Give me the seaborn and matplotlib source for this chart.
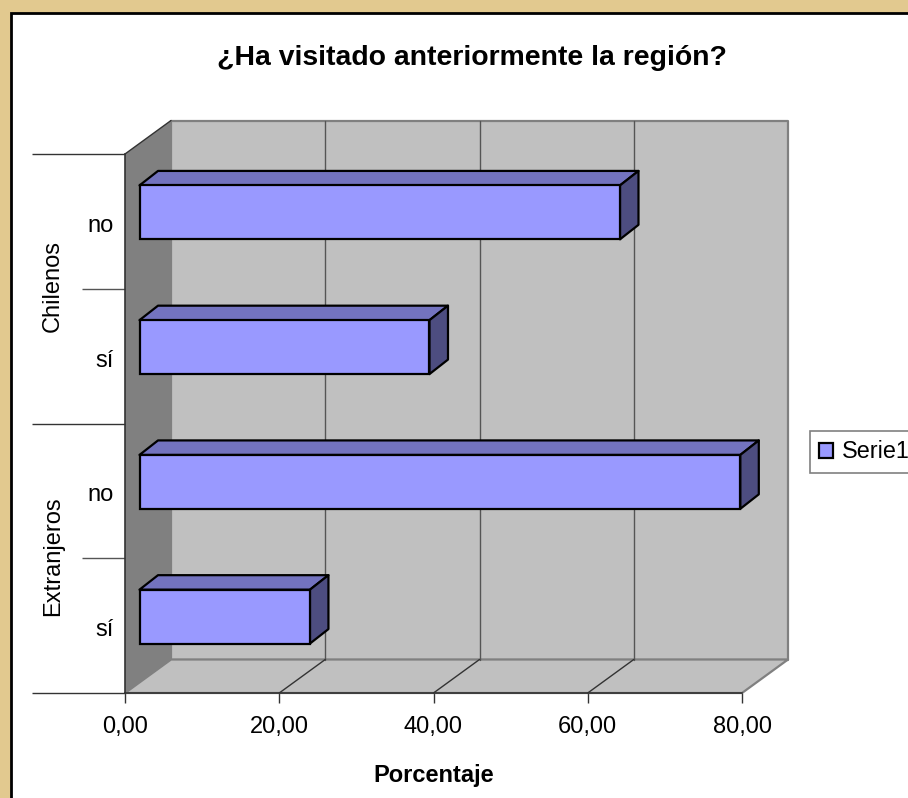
import pandas as pd
import seaborn as sns
import matplotlib.pyplot as plt
from matplotlib.patches import Polygon, Rectangle
from matplotlib.ticker import FuncFormatter
from matplotlib.transforms import Affine2D

# -----------------------------
# Data
# -----------------------------
grupos = ['Chilenos', 'Chilenos', 'Extranjeros', 'Extranjeros']
respuestas = ['no', 'sí', 'no', 'sí']
porcentajes = [62.3, 37.6, 77.9, 22.1]
x_ticks = [0, 20, 40, 60, 80]

df = pd.DataFrame({'grupo': grupos, 'respuesta': respuestas, 'porcentaje': porcentajes})
df['clave'] = df['grupo'] + ' ' + df['respuesta']

W, H = 908, 798
BAR = '#9999FF'
BAR_TOP = '#7373BF'
BAR_SIDE = '#4D4D80'
WALL = '#C0C0C0'
WALL_DARK = '#808080'

sns.set_theme(style='white')
plt.rcParams['font.family'] = ['Liberation Sans', 'DejaVu Sans']

fig = plt.figure(figsize=(W / 100, H / 100), dpi=100, facecolor='#E2C98F')
fig.patches.append(Rectangle((10.5 / W, -0.01), 1, 1 - 12.5 / H + 0.01, transform=fig.transFigure,
                             facecolor='white', edgecolor='black', linewidth=2, zorder=-1))

ax = fig.add_axes([125 / W, (H - 693) / H, 617 / W, 539 / H])
ax.patch.set_alpha(0)

sns.barplot(data=df, x='porcentaje', y='clave', orient='h', color=BAR, saturation=1, width=0.4,
            edgecolor='black', linewidth=1.6, label='Serie1', ax=ax, zorder=5)
ax.set_xlim(0, 80)
ax.set_ylim(3.5, -0.5)

# px to data units, the fake 3D is all worked out from these
ux = 80 / 617
uy = 4 / 539
dx, dy = 46 * ux, 33.5 * uy  # wall depth
sx, sy = 14.5 * ux, 9 * uy  # bar offset inside the depth
bx, by = 18.5 * ux, 14.5 * uy  # bar depth


def poly(pts, fc, ec='none', lw=0, z=1):
    ax.add_patch(Polygon(pts, closed=True, facecolor=fc, edgecolor=ec, linewidth=lw,
                         clip_on=False, zorder=z, joinstyle='round'))


# -----------------------------
# Walls and floor
# -----------------------------
poly([(dx, -0.5 - dy), (80 + dx, -0.5 - dy), (80 + dx, 3.5 - dy), (dx, 3.5 - dy)], WALL, WALL_DARK, 1.6, 1)
poly([(0, 3.5), (dx, 3.5 - dy), (80 + dx, 3.5 - dy), (80, 3.5)], WALL, WALL_DARK, 1.6, 1)
poly([(0, -0.5), (dx, -0.5 - dy), (dx, 3.5 - dy), (0, 3.5)], WALL_DARK, 'none', 0, 2)
ax.plot([0, dx], [-0.5, -0.5 - dy], color='#333333', lw=1, clip_on=False, zorder=3)

for t in x_ticks[1:-1]:
    ax.plot([t + dx, t + dx], [-0.5 - dy, 3.5 - dy], color='#555555', lw=1, clip_on=False, zorder=2)
    ax.plot([t, t + dx], [3.5, 3.5 - dy], color='#333333', lw=1, clip_on=False, zorder=2)

# -----------------------------
# Bars: move them into the depth and add top and side
# -----------------------------
for bar in ax.containers[0]:
    bar.set_x(bar.get_x() + sx)
    bar.set_y(bar.get_y() - sy)
    bar.set_clip_on(False)
    x0, x1 = bar.get_x(), bar.get_x() + bar.get_width()
    y0, y1 = bar.get_y(), bar.get_y() + bar.get_height()
    poly([(x0, y0), (x0 + bx, y0 - by), (x1 + bx, y0 - by), (x1, y0)], BAR_TOP, 'black', 1.6, 4)
    poly([(x1, y0), (x1 + bx, y0 - by), (x1 + bx, y1 - by), (x1, y1)], BAR_SIDE, 'black', 1.6, 4)

# -----------------------------
# Axes text and ticks
# -----------------------------
for s in ['top', 'right']:
    ax.spines[s].set_visible(False)
for s in ['left', 'bottom']:
    ax.spines[s].set_color('#333333')
    ax.spines[s].set_linewidth(1.2)
    ax.spines[s].set_zorder(3)

ax.set_xticks(x_ticks)
ax.xaxis.set_major_formatter(FuncFormatter(lambda v, p: f'{v:.2f}'.replace('.', ',')))
ax.tick_params(axis='x', bottom=True, length=7, width=1, color='#333333', labelsize=17, pad=9.5, labelcolor='black')
ax.set_yticks(range(4), respuestas)
ax.tick_params(axis='y', left=False, labelsize=17, pad=2.5, labelcolor='black')
# labels sit slightly under the band centre
for lab in ax.get_yticklabels():
    lab.set_transform(lab.get_transform() + Affine2D().translate(0, -2))
ax.set_xlabel('Porcentaje', fontsize=17, fontweight='bold', labelpad=19, color='black')
ax.set_ylabel('')

ax.hlines([-0.5, 1.5, 3.5], -93 * ux, 0, color='#333333', lw=1, clip_on=False)
ax.hlines([0.5, 2.5], -43 * ux, 0, color='#555555', lw=1, clip_on=False)
ax.text(-72 * ux, 0.5 - 2.5 * uy, 'Chilenos', rotation=90, ha='center', va='center', fontsize=17, color='black')
ax.text(-72 * ux, 2.5 - 2 * uy, 'Extranjeros', rotation=90, ha='center', va='center', fontsize=17, color='black')

fig.text(472 / W, 1 - 58 / H, '¿Ha visitado anteriormente la región?', ha='center', va='center',
         fontsize=20.4, fontweight='bold', color='black')

leg = ax.legend(loc='upper left', bbox_to_anchor=(810 / W, 1 - 431 / H), bbox_transform=fig.transFigure,
                fontsize=16.8, frameon=True, fancybox=False, framealpha=1, edgecolor='#808080',
                handlelength=0.6, handleheight=0.6, handletextpad=0.35, borderpad=0.4, borderaxespad=0,
                labelcolor='black')
leg.get_frame().set_linewidth(1.2)

fig.savefig('out.png', dpi=100, facecolor=fig.get_facecolor())
